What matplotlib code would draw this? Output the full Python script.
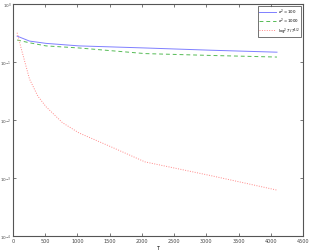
import numpy as np
import matplotlib.pyplot as plt

# values
T_blue = [64, 256, 512, 1024, 2048, 3072, 4096]
blue = [0.28, 0.23, 0.21, 0.19, 0.175, 0.16, 0.148]

T_green = [64, 256, 512, 1024, 2048, 3072, 4096]
green = [0.24, 0.215, 0.19, 0.175, 0.14, 0.13, 0.122]

T_red = [64, 128, 256, 384, 512, 768, 1024, 1536, 2048, 3072, 4096]
red = [0.32, 0.17, 0.051, 0.026, 0.017, 0.009, 0.006, 0.0034, 0.0019, 0.0011, 0.00062]

labels = [r"$\sigma^2 = 100$", r"$\sigma^2 = 1000$", r"$\log^2 T\,/\,T^{1/2}$"]

fig = plt.figure(figsize=(3.11, 2.53), dpi=100)
ax = fig.add_axes([0.0418, 0.063, 0.9325, 0.917])

ax.semilogy(T_blue, blue, color="#7f7fff", lw=0.7, label=labels[0])
ax.semilogy(T_green, green, color="#55bb55", lw=0.7, ls=(0, (4, 3)), label=labels[1])
ax.semilogy(T_red, red, color="#ff8888", lw=0.7, ls=(0, (1, 1.5)), label=labels[2])

ax.set_xlim(0, 4500)
ax.set_ylim(1e-4, 1)
ax.set_xticks(np.arange(0, 4501, 500))
ax.set_yticks([1e-4, 1e-3, 1e-2, 1e-1, 1])
ax.minorticks_off()
ax.tick_params(direction="in", top=True, right=True, labelsize=3.5, length=2,
               width=0.5, colors="#444444", pad=1.5)
ax.tick_params(axis="y", labelsize=3.0, pad=1.0)
for s in ax.spines.values():
    s.set_color("#555555")
    s.set_linewidth(0.8)
ax.set_xlabel("T", fontsize=3.5, labelpad=1)

leg = ax.legend(loc="upper right", fontsize=2.8, frameon=True, fancybox=False,
                edgecolor="#333333", handlelength=4.5, borderpad=0.3,
                labelspacing=0.0, handletextpad=0.5, borderaxespad=0.4)
leg.get_frame().set_linewidth(0.6)

fig.savefig("out.png", dpi=100)
